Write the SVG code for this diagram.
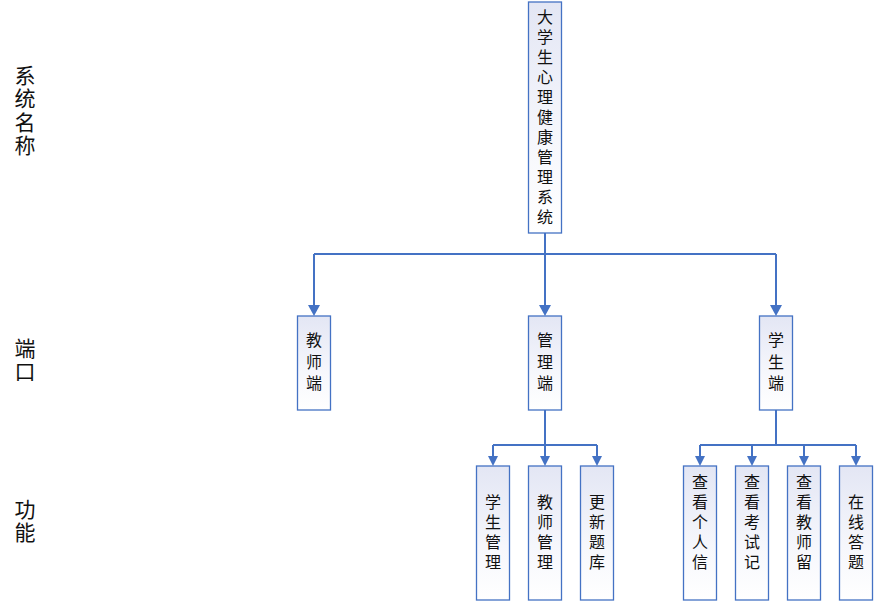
<svg xmlns="http://www.w3.org/2000/svg" width="874" height="602" viewBox="0 0 874 602">
<defs>
<linearGradient id="g" x1="0" y1="0" x2="0" y2="1">
<stop offset="0" stop-color="#e3e6f4"/>
<stop offset="0.6" stop-color="#f6f7fc"/>
<stop offset="1" stop-color="#ffffff"/>
</linearGradient>
<marker id="a1" viewBox="0 0 11 12" refX="0" refY="6" markerWidth="11" markerHeight="12" markerUnits="userSpaceOnUse" orient="auto">
<path d="M0,0 L11,6 L0,12 z" fill="#4472c4"/>
</marker>
<marker id="a2" viewBox="0 0 10 10" refX="0" refY="5" markerWidth="10" markerHeight="10" markerUnits="userSpaceOnUse" orient="auto">
<path d="M0,0 L10,5 L0,10 z" fill="#4472c4"/>
</marker>
</defs>
<style>
.box{fill:url(#g);stroke:#4472c4;stroke-width:1.3}
.t{font-family:"Noto Sans CJK SC","Microsoft YaHei",sans-serif;font-size:16px;fill:#111;writing-mode:vertical-rl;text-orientation:upright;letter-spacing:4px}
.l2{letter-spacing:5.5px}
.s{font-family:"Noto Sans CJK SC",sans-serif;font-size:21px;fill:#111;writing-mode:vertical-rl;text-orientation:upright;letter-spacing:2.3px}
.c{fill:none;stroke:#4472c4;stroke-width:2}
</style>
<rect width="874" height="602" fill="#ffffff"/>
<g id="side-labels">
<text class="s" x="25" y="64.5">系统名称</text>
<text class="s" x="25" y="337.5">端口</text>
<text class="s" x="25" y="498.5">功能</text>
</g>
<g id="connectors">
<path class="c" d="M545,233 V254 M314,254 H776"/>
<path class="c" marker-end="url(#a1)" d="M314,254 V305"/>
<path class="c" marker-end="url(#a1)" d="M545,254 V305"/>
<path class="c" marker-end="url(#a1)" d="M776,254 V305"/>
<path class="c" d="M545,410 V445 M493,445 H597"/>
<path class="c" marker-end="url(#a2)" d="M493,445 V456"/>
<path class="c" marker-end="url(#a2)" d="M545,445 V456"/>
<path class="c" marker-end="url(#a2)" d="M597,445 V456"/>
<path class="c" d="M776,410 V445 M700,445 H856"/>
<path class="c" marker-end="url(#a2)" d="M700,445 V456"/>
<path class="c" marker-end="url(#a2)" d="M752,445 V456"/>
<path class="c" marker-end="url(#a2)" d="M804,445 V456"/>
<path class="c" marker-end="url(#a2)" d="M856,445 V456"/>
</g>
<g id="root">
<rect class="box" x="528.5" y="2" width="33" height="231"/>
<text class="t" x="545" y="9">大学生心理健康管理系统</text>
</g>
<g id="teacher">
<rect class="box" x="297.5" y="316" width="33" height="94"/>
<text class="t l2" x="314" y="332">教师端</text>
</g>
<g id="admin">
<rect class="box" x="528.5" y="316" width="33" height="94"/>
<text class="t l2" x="545" y="332">管理端</text>
</g>
<g id="student">
<rect class="box" x="759.5" y="316" width="33" height="94"/>
<text class="t l2" x="776" y="332">学生端</text>
</g>
<g id="f-student-mgmt">
<rect class="box" x="476.5" y="466" width="33" height="134"/>
<text class="t" x="493" y="494">学生管理</text>
</g>
<g id="f-teacher-mgmt">
<rect class="box" x="528.5" y="466" width="33" height="134"/>
<text class="t" x="545" y="494">教师管理</text>
</g>
<g id="f-update-bank">
<rect class="box" x="580.5" y="466" width="33" height="134"/>
<text class="t" x="597" y="494">更新题库</text>
</g>
<g id="f-personal">
<rect class="box" x="683.5" y="466" width="33" height="134"/>
<text class="t" x="700" y="474">查看个人信</text>
</g>
<g id="f-exam">
<rect class="box" x="735.5" y="466" width="33" height="134"/>
<text class="t" x="752" y="474">查看考试记</text>
</g>
<g id="f-teacher-msg">
<rect class="box" x="787.5" y="466" width="33" height="134"/>
<text class="t" x="804" y="474">查看教师留</text>
</g>
<g id="f-online">
<rect class="box" x="839.5" y="466" width="33" height="134"/>
<text class="t" x="856" y="494">在线答题</text>
</g>
</svg>
